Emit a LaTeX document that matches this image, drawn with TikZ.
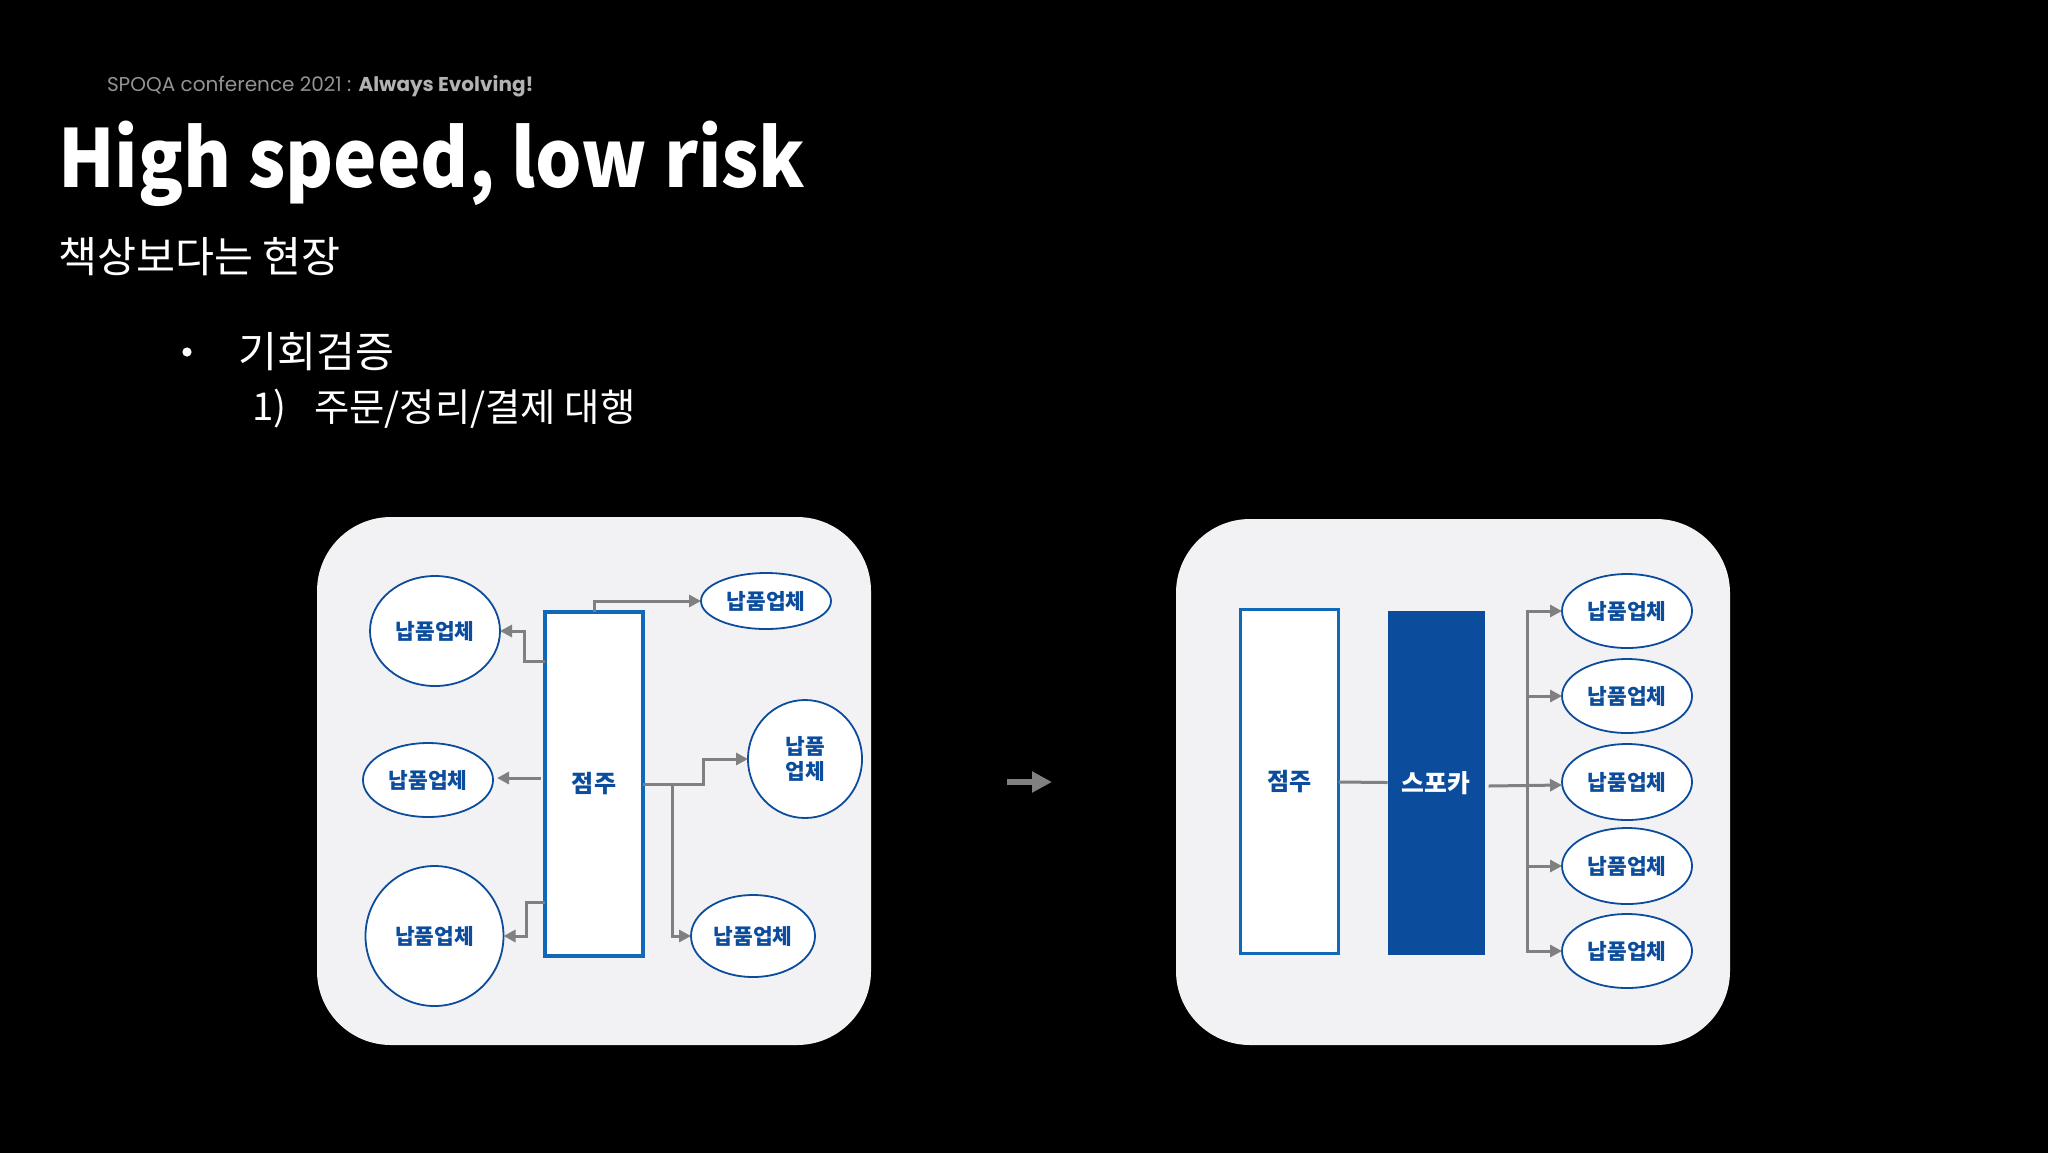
\documentclass[tikz,border=0pt]{standalone}
\usepackage{fontspec}
\usepackage{tikz}
\usetikzlibrary{arrows.meta, shapes.geometric}
\setmainfont{Noto Sans CJK KR}
\newfontfamily\talkfont{Poppins}
\newfontfamily\headfont[FakeStretch=0.915]{Noto Sans CJK KR}
\definecolor{panelgray}{HTML}{F2F2F4}
\definecolor{vendorblue}{HTML}{0B4C9C}
\definecolor{shopblue}{HTML}{0F68B8}
\definecolor{flowgray}{HTML}{808080}

\begin{document}
\begin{tikzpicture}[
		x=0.5pt, y=-0.5pt,
		every node/.style={inner sep=0pt, outer sep=0pt},
		panel/.style={draw=none, fill=panelgray, rounded corners=37pt},
		vendor/.style={ellipse, draw=vendorblue, line width=0.9pt, fill=white, text=vendorblue, font=\bfseries\fontsize{10.7}{12.8}\selectfont, align=center},
		shop/.style={rectangle, draw=shopblue, line width=1.8pt, fill=white, text=vendorblue, font=\bfseries\fontsize{12}{14}\selectfont, minimum width=49pt},
		flow/.style={draw=flowgray, line width=1.5pt, -{Triangle[length=6pt, width=6pt]}},
		plain/.style={draw=flowgray, line width=1.5pt},
		slidetext/.style={anchor=west, text=white, font=\fontsize{21.2}{25}\selectfont}
	]
  \useasboundingbox (0,0) rectangle (2048,1152);
  \fill[black] (-10,-10) rectangle (2058,1162);

  \node (talk) [anchor=west, text=gray!85, font=\talkfont\fontsize{10}{12}\selectfont] at (107,86) {SPOQA conference 2021 : \textcolor{gray!60!white}{\bfseries Always Evolving!}};
  \node (title) [anchor=west, text=white, font=\headfont\bfseries\fontsize{40}{48}\selectfont] at (58,164) {High speed, low risk};
  \node (sub) [slidetext] at (58,257) {책상보다는 현장};
  \node (bullet) [circle, fill=white, minimum size=4.6pt] at (187,352) {};
  \node (point) [slidetext] at (238,352) {기회검증};
  \node (num) [slidetext, font=\fontsize{19.2}{23}\selectfont] at (252,409) {1)};
  \node (item) [slidetext, font=\fontsize{19.2}{23}\selectfont] at (314,409) {주문/정리/결제 대행};

  \node (panel_l) [panel, minimum width=277pt, minimum height=264pt] at (594,781) {};
  \node (panel_r) [panel, minimum width=277pt, minimum height=263pt] at (1453,782) {};

  \node (shop_l) [shop, minimum height=172pt] at (594,784) {점주};
  \node (v_a) [vendor, minimum width=65pt, minimum height=55pt] at (435,631) {납품업체};
  \node (v_b) [vendor, minimum width=65pt, minimum height=28pt] at (766,601) {납품업체};
  \node (v_c) [vendor, minimum width=65pt, minimum height=37pt] at (428,780) {납품업체};
  \node (v_d) [vendor, minimum width=57pt, minimum height=59pt] at (805,759) {납품\\업체};
  \node (v_e) [vendor, minimum width=69pt, minimum height=70pt] at (434.5,936) {납품업체};
  \node (v_f) [vendor, minimum width=62pt, minimum height=41pt] at (753,936) {납품업체};

  \draw[flow] (shop_l.north) |- (v_b.west);
  \draw[flow] ([yshift=61.5pt]shop_l.west) -- ++(-21,0) |- (v_a.east);
  \draw[flow] ([xshift=-2pt, yshift=3pt]shop_l.west) -- ([xshift=2pt, yshift=1pt]v_c.east);
  \draw[flow] ([yshift=-59pt]shop_l.west) -- ++(-19,0) |- (v_e.east);
  \coordinate (fork_l) at ([xshift=14.5pt]shop_l.east);
  \draw[flow] (shop_l.east) -- ++(60,0) |- (v_d.west);
  \draw[flow] (fork_l) |- (v_f.west);

  \coordinate (move_a) at (1007,782);
  \coordinate (move_b) at (1052,782);
  \draw[draw=flowgray, line width=3.3pt, -{Triangle[length=10pt, width=10pt]}] (move_a) -- (move_b);

  \node (shop_r) [shop, minimum height=172pt] at (1289.5,781.5) {점주};
  \node (spoqa) [rectangle, fill=vendorblue, text=white, font=\bfseries\fontsize{12.4}{14}\selectfont, minimum width=48.5pt, minimum height=172pt] at (1436,783) {스포카};
  \node (v_1) [vendor, minimum width=65pt, minimum height=37pt] at (1627,611) {납품업체};
  \node (v_2) [vendor, minimum width=65pt, minimum height=37pt] at (1627,696) {납품업체};
  \node (v_3) [vendor, minimum width=65pt, minimum height=38pt] at (1627,782) {납품업체};
  \node (v_4) [vendor, minimum width=65pt, minimum height=38pt] at (1627,866) {납품업체};
  \node (v_5) [vendor, minimum width=65pt, minimum height=37pt] at (1627,951) {납품업체};

  \draw[plain] (shop_r) -- (spoqa);
  \coordinate (trunk) at (1527,786);
  \draw[flow] ([xshift=2pt, yshift=-1.5pt]spoqa.east) -- ([yshift=-1.5pt]v_3.west);
  \draw[flow] (trunk) |- (v_1.west);
  \draw[flow] (trunk) |- (v_2.west);
  \draw[flow] (trunk) |- (v_4.west);
  \draw[flow] (trunk) |- (v_5.west);
\end{tikzpicture}
\end{document}
